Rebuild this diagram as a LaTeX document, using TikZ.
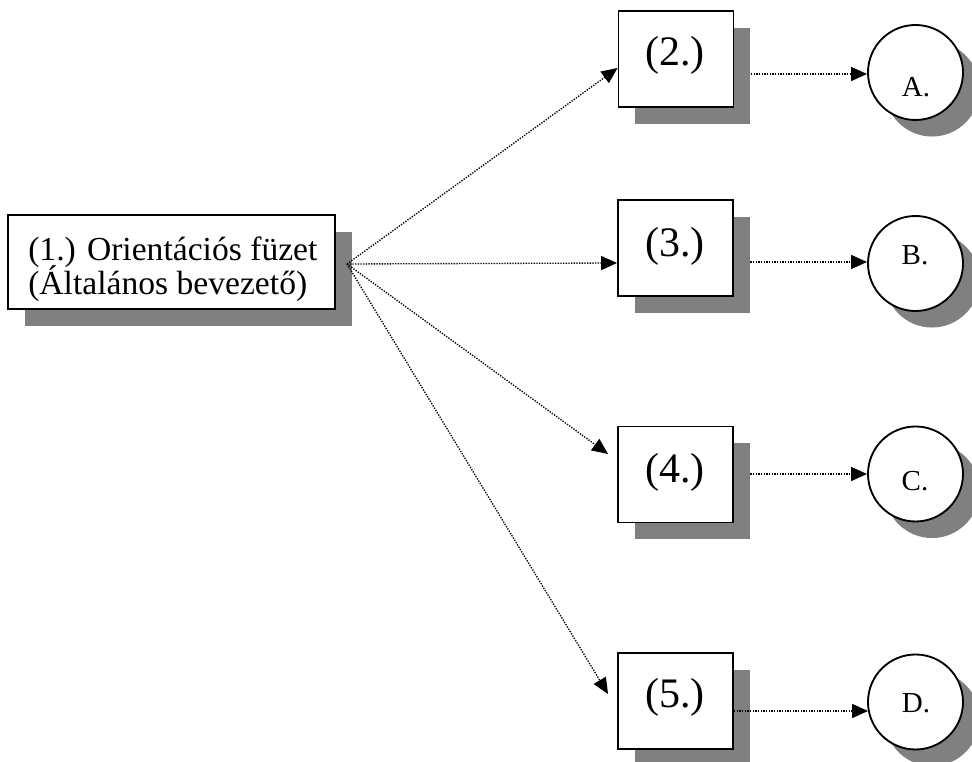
\documentclass[tikz,border=0pt]{standalone}
\usepackage{fontspec}
\setmainfont{Liberation Serif}
\usetikzlibrary{shadows,arrows.meta,calc}
\definecolor{shadowgray}{RGB}{128,128,128}
\tikzset{
  myshadow/.style={drop shadow={shadow xshift=12.4pt,shadow yshift=-12.4pt,fill=shadowgray,opacity=1}},
  boxnode/.style={draw=black,fill=white,line width=1.4pt,rectangle,inner sep=0pt,myshadow},
  smallbox/.style={boxnode,minimum width=86.25pt,minimum height=72pt},
  circnode/.style={draw=black,fill=white,line width=1.4pt,circle,inner sep=0pt,minimum size=71.25pt,myshadow},
  txt/.style={inner sep=0pt,anchor=base},
  bigtxt/.style={txt,font=\fontsize{31.5}{36}\selectfont},
  midtxt/.style={inner sep=0pt,anchor=base west,font=\fontsize{25.2}{25.5}\selectfont},
  ctxt/.style={txt,font=\fontsize{21.75}{26}\selectfont},
  conn/.style={line width=1pt,dash pattern=on 1pt off 1pt,-{Triangle[length=12pt,width=10.5pt]}}
}
\begin{document}
\begin{tikzpicture}[x=0.75pt,y=-0.75pt]
\useasboundingbox (0,0) rectangle (972,762);
% boxes
\node[boxnode,minimum width=245.25pt,minimum height=70.5pt] (b1) at (171.5,262) {};
\node[smallbox] (b2) at (676,59) {};
\node[smallbox] (b3) at (675.5,248) {};
\node[smallbox] (b4) at (675.5,474.5) {};
\node[smallbox] (b5) at (675.5,701) {};
% circles
\node[circnode] (cA) at (915.5,72.5) {};
\node[circnode] (cB) at (915.5,263.5) {};
\node[circnode] (cC) at (915.5,474) {};
\node[circnode] (cD) at (915.5,702) {};
% texts
\node[midtxt] (t1) at (28,261) {\vtop{\baselineskip=25.5pt\lineskiplimit=-100pt\hbox{(1.) Orientációs füzet}\hbox{(Általános bevezető)}}};
\node[bigtxt] (t2) at (675,66) {(2.)};
\node[bigtxt] (t3) at (675,257) {(3.)};
\node[bigtxt] (t4) at (675,483) {(4.)};
\node[bigtxt] (t5) at (675,708) {(5.)};
\node[ctxt] (tA) at (916,97) {A.};
\node[ctxt] (tB) at (915,265) {B.};
\node[ctxt] (tC) at (915,491) {C.};
\node[ctxt] (tD) at (916,713) {D.};
% fan
\coordinate (fan) at (347,264);
\draw[conn] (fan) -- ($(b2.west)+(0,9)$);
\draw[conn] (fan) -- ($(b3.west)+(0,15)$);
\draw[conn] (fan) -- ($(b4.west)+(-9,-20.5)$);
\draw[conn] (fan) -- ($(b5.west)+(-9,-7)$);
% right arrows
\draw[conn] ($(b2.east)+(16.5,15)$) -- ($(cA.west)+(0,1.5)$);
\draw[conn] ($(b3.east |- cB.west)+(16.5,-1.5)$) -- ($(cB.west)+(0,-1.5)$);
\draw[conn] ($(b4.east |- cC.west)+(16.5,0)$) -- (cC.west);
\draw[conn] ($(b5.east)+(0,10)$) -- ($(cD.west)+(1,9)$);
\end{tikzpicture}
\end{document}
